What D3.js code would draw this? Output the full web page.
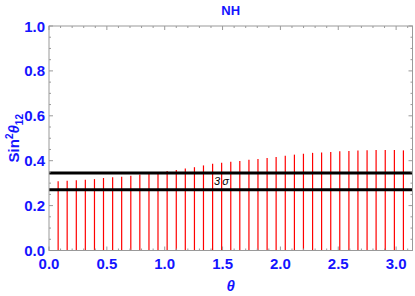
<!DOCTYPE html>
<html>
<head>
<meta charset="utf-8">
<script src="https://cdn.jsdelivr.net/npm/d3@7"></script>
<style>
  body { margin: 0; background: #fff; }
  text { font-family: "Liberation Sans", Arial, sans-serif; }
</style>
</head>
<body>
<svg id="chart" width="415" height="296"></svg>
<script>
  'use strict';

  // theta grid points (k*pi/40)
  var thetas = [0.079, 0.157, 0.236, 0.314, 0.393, 0.471, 0.550, 0.628, 0.707, 0.785,
                0.864, 0.942, 1.021, 1.100, 1.178, 1.257, 1.335, 1.414, 1.492, 1.571,
                1.649, 1.728, 1.806, 1.885, 1.963, 2.042, 2.121, 2.199, 2.278, 2.356,
                2.435, 2.513, 2.592, 2.670, 2.749, 2.827, 2.906, 2.985, 3.063];
  // upper end of allowed sin^2 theta12 at each theta
  var tops = [0.308, 0.311, 0.313, 0.315, 0.318, 0.323, 0.326, 0.329, 0.333, 0.338,
              0.343, 0.348, 0.354, 0.359, 0.365, 0.371, 0.379, 0.386, 0.391, 0.395,
              0.399, 0.404, 0.408, 0.412, 0.417, 0.422, 0.427, 0.431, 0.435, 0.437,
              0.439, 0.442, 0.443, 0.445, 0.447, 0.448, 0.448, 0.448, 0.446];
  var lows = tops.map(function(){ return 0; });
  var sigmaBand = [0.271, 0.345];
  var xTicks = [0, 0.5, 1.0, 1.5, 2.0, 2.5, 3.0];
  var yTicks = [0, 0.2, 0.4, 0.6, 0.8, 1.0];

  (function() {
    var blue = '#1414ff', frameColor = '#9a9a9a';
    var m = {left: 49, right: 412.5, top: 26, bottom: 250.5};

    var svg = d3.select('#chart');
    var x = d3.scaleLinear().domain([0, Math.PI]).range([m.left, m.right]);
    var y = d3.scaleLinear().domain([0, 1]).range([m.bottom, m.top]);

    // red range lines
    svg.append('g').selectAll('line').data(thetas).enter().append('line')
      .attr('x1', function(d){ return x(d); })
      .attr('x2', function(d){ return x(d); })
      .attr('y1', function(d, i){ return y(lows[i]); })
      .attr('y2', function(d, i){ return y(tops[i]); })
      .attr('stroke', '#ff0000')
      .attr('stroke-width', 1.2);

    // 3 sigma lines
    svg.append('g').selectAll('line').data(sigmaBand).enter().append('line')
      .attr('x1', m.left).attr('x2', m.right)
      .attr('y1', function(d){ return y(d); })
      .attr('y2', function(d){ return y(d); })
      .attr('stroke', '#000').attr('stroke-width', 3);

    svg.append('text')
      .attr('x', x(1.49)).attr('y', y((sigmaBand[0] + sigmaBand[1]) / 2) + 4)
      .attr('text-anchor', 'middle')
      .attr('font-size', '11px').attr('font-style', 'italic')
      .text('3\u2009\u03c3');

    // frame with inward ticks
    var frame = svg.append('g').attr('stroke', frameColor).attr('stroke-width', 1).attr('fill', 'none');
    frame.append('rect').attr('x', m.left).attr('y', m.top)
      .attr('width', m.right - m.left).attr('height', m.bottom - m.top);

    var xMinor = d3.range(0, 3.15, 0.1);
    var yMinor = d3.range(0, 1.001, 0.05);
    xMinor.forEach(function(v){
      var major = Math.abs(v * 2 - Math.round(v * 2)) < 1e-6;
      var len = major ? 4 : 2;
      frame.append('line').attr('x1', x(v)).attr('x2', x(v)).attr('y1', m.bottom).attr('y2', m.bottom - len);
      frame.append('line').attr('x1', x(v)).attr('x2', x(v)).attr('y1', m.top).attr('y2', m.top + len);
    });
    yMinor.forEach(function(v){
      var major = Math.abs(v * 5 - Math.round(v * 5)) < 1e-6;
      var len = major ? 4 : 2;
      frame.append('line').attr('x1', m.left).attr('x2', m.left + len).attr('y1', y(v)).attr('y2', y(v));
      frame.append('line').attr('x1', m.right).attr('x2', m.right - len).attr('y1', y(v)).attr('y2', y(v));
    });

    // tick labels
    svg.append('g').selectAll('text').data(xTicks).enter().append('text')
      .attr('x', function(d){ return x(d); })
      .attr('y', 269)
      .attr('text-anchor', 'middle')
      .attr('fill', blue).attr('font-weight', 'bold').attr('font-size', '15px')
      .text(function(d){ return d3.format('.1f')(d); });

    svg.append('g').selectAll('text').data(yTicks).enter().append('text')
      .attr('x', 45)
      .attr('y', function(d){ return y(d) + 5.5; })
      .attr('text-anchor', 'end')
      .attr('fill', blue).attr('font-weight', 'bold').attr('font-size', '15px')
      .text(function(d){ return d3.format('.1f')(d); });

    // title and axis labels
    svg.append('text')
      .attr('x', (m.left + m.right) / 2).attr('y', 15)
      .attr('text-anchor', 'middle')
      .attr('fill', blue).attr('font-weight', 'bold').attr('font-size', '13px')
      .text('NH');

    svg.append('text')
      .attr('x', (m.left + m.right) / 2).attr('y', 291)
      .attr('text-anchor', 'middle')
      .attr('fill', blue).attr('font-weight', 'bold').attr('font-style', 'italic').attr('font-size', '15px')
      .text('\u03b8');

    var yl = svg.append('text')
      .attr('transform', 'translate(19,' + ((m.top + m.bottom) / 2) + ') rotate(-90)')
      .attr('text-anchor', 'middle')
      .attr('fill', blue).attr('font-weight', 'bold').attr('font-size', '15px');
    yl.append('tspan').text('Sin');
    yl.append('tspan').attr('dy', -6).attr('font-size', '10px').text('2');
    yl.append('tspan').attr('dy', 6).attr('font-style', 'italic').text('\u03b8');
    yl.append('tspan').attr('dy', 4).attr('font-size', '10px').text('12');
  })();
</script>
</body>
</html>
